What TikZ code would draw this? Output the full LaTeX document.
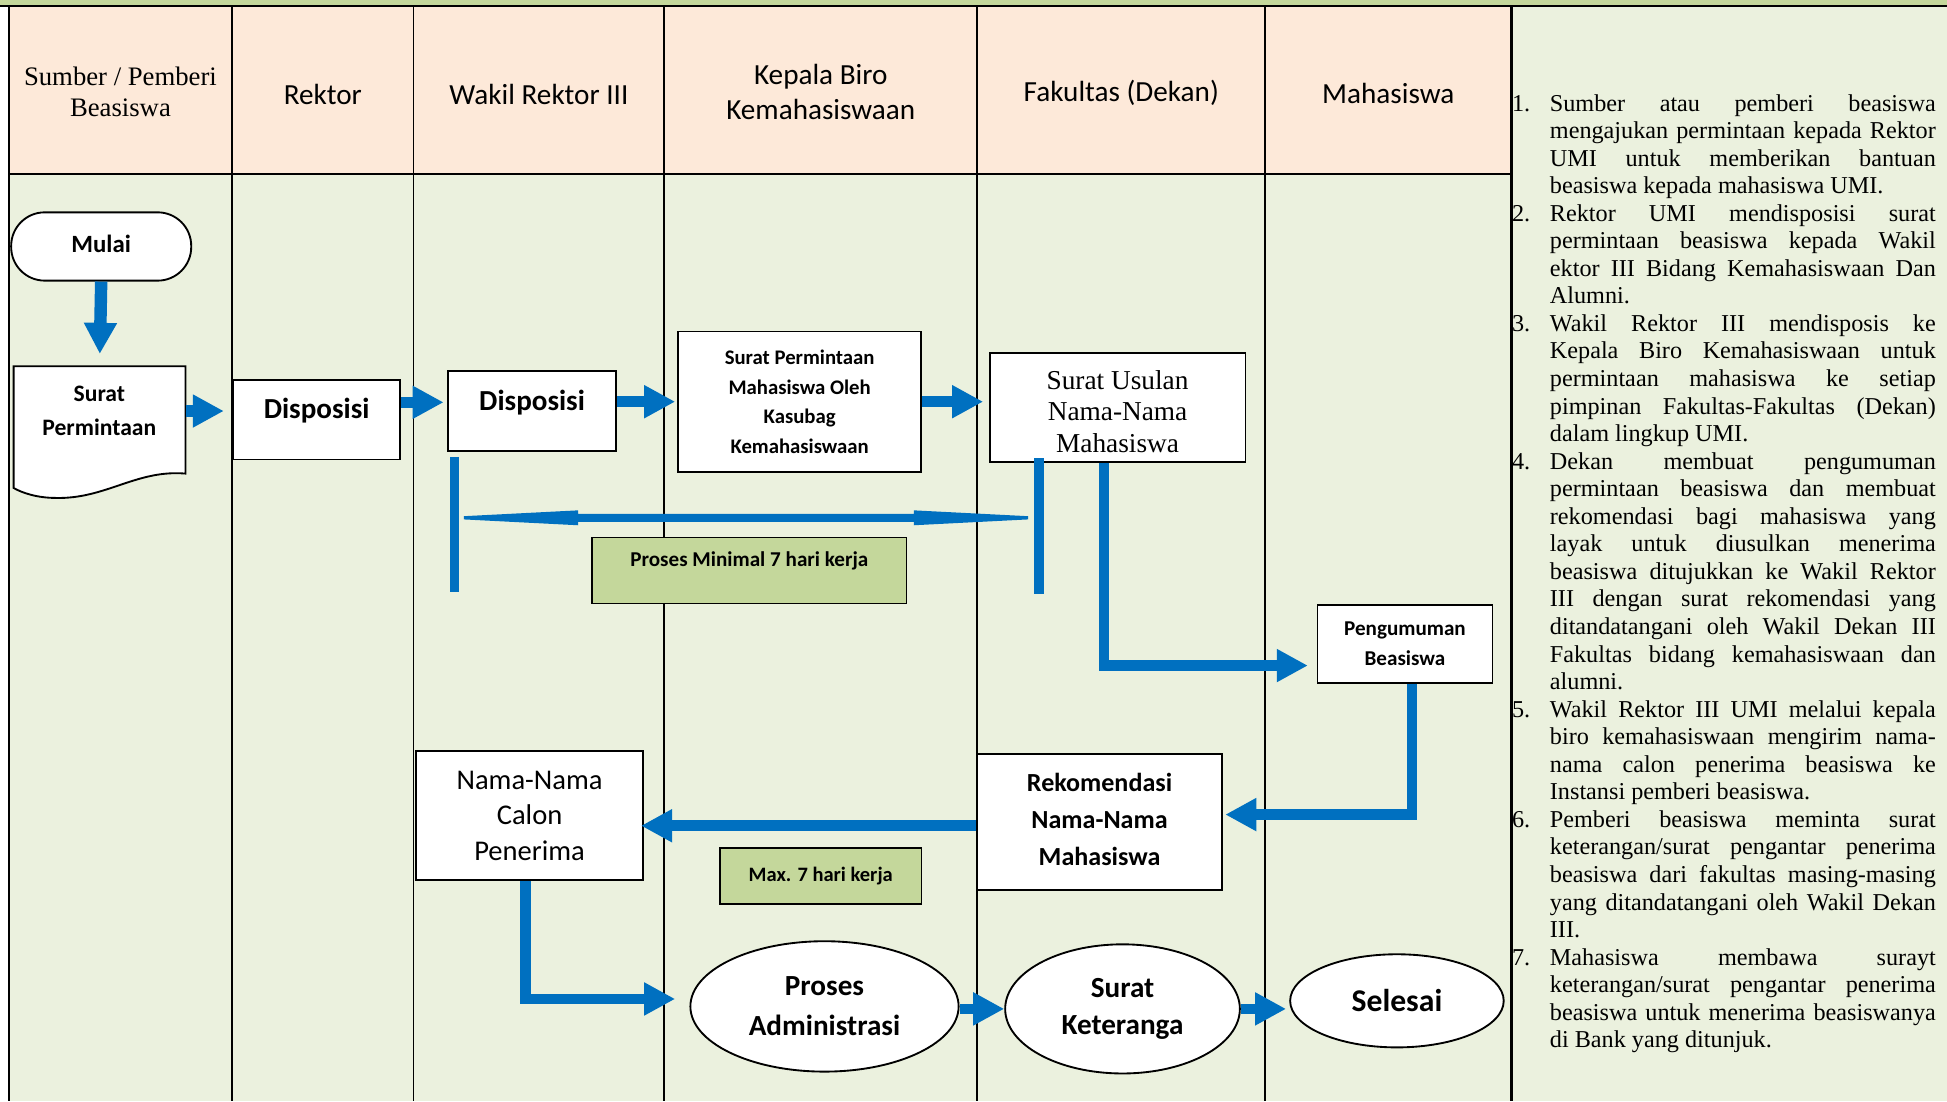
\documentclass[tikz,border=0pt]{standalone}
\usepackage{fontspec}
\setmainfont{Liberation Serif}
\newfontfamily\calfont{Carlito}
\usetikzlibrary{arrows.meta,shapes.geometric,calc}
\definecolor{flowblue}{HTML}{0070C0}
\definecolor{peach}{HTML}{FDE9D9}
\definecolor{bodygreen}{HTML}{EBF1DE}
\definecolor{notegreen}{HTML}{C4D79B}
\newcommand\jline[2]{\makebox[30.5pt][l]{#1}\makebox[310.8pt][s]{#2}\par}
\newcommand\lline[1]{\makebox[30.5pt][l]{}#1\par}
\tikzset{
  box/.style={draw=black, line width=1.5pt, fill=white, inner sep=0pt},
  notebox/.style={draw=black, line width=1.3pt, fill=notegreen, inner sep=0pt},
  flow/.style={draw=flowblue, line width=8.5pt, line join=miter, -{Triangle[length=25pt,width=25pt]}},
  flowthick/.style={flow, line width=10pt},
  barline/.style={draw=flowblue, line width=8pt},
  lane/.style={draw=black, line width=1.5pt},
  hdr/.style={align=center, inner sep=0pt, font=\calfont\fontsize{23.5}{28}\selectfont},
  bt/.style={align=center, inner sep=0pt},
}
\begin{document}
\begin{tikzpicture}[x=1pt,y=-1pt]
\useasboundingbox (0,0) rectangle (1568,887);
% backgrounds
\fill[white] (0,0) rectangle (1568,887);
\fill[bodygreen] (7,5) rectangle (1568,887);
\fill[peach] (7,5) rectangle (1217,140);
\fill[notegreen] (0,0) rectangle (1568,5);
% table lines
\draw[lane] (0,5) -- (1568,5);
\foreach \x in {7,187,333,535,787,1019} \draw[lane] (\x,5) -- (\x,887);
\draw[black, line width=2.2pt] (1217,5) -- (1217,887);
\draw[black, line width=2pt] (7,140) -- (1217,140);
% headers
\node[hdr, font=\fontsize{21.5}{25}\selectfont] (hsumber) at (97,74) {Sumber / Pemberi\\Beasiswa};
\node[hdr] (hrektor) at (260,76) {Rektor};
\node[hdr] (hwr) at (434,76) {Wakil Rektor III};
\node[hdr] (hkbk) at (661,74) {Kepala Biro\\Kemahasiswaan};
\node[hdr] (hfak) at (903,75) {Fakultas (Dekan)};
\node[hdr] (hmhs) at (1118,75) {Mahasiswa};

% flow nodes
\node[box, rounded corners=27pt, minimum width=145pt, minimum height=55pt] (mulai) at (81.5,198.5) {};
\node[bt, font=\calfont\bfseries\fontsize{20}{24}\selectfont] (mulait) at (81.5,196.5) {Mulai};

\node[inner sep=0pt, minimum width=138pt, minimum height=86pt, anchor=north west] (surat) at (11,295) {};
\draw[box] (surat.north west) -- (surat.north east) -- (surat.south east)
  .. controls (110,378) and (85,402) .. (45,401) .. controls (30,401) and (18,397) .. (11,393) -- cycle;
\node[bt, font=\calfont\bfseries\fontsize{19}{27}\selectfont] (surattext) at (80,331) {Surat\\Permintaan};

\node[box, minimum width=134pt, minimum height=64pt] (disp1) at (255,338) {};
\node[bt, font=\calfont\bfseries\fontsize{23.4}{28}\selectfont] (disp1t) at (255,331) {Disposisi};

\node[box, minimum width=135pt, minimum height=64pt] (disp2) at (428.5,331) {};
\node[bt, font=\calfont\bfseries\fontsize{23.4}{28}\selectfont] (disp2t) at (428.5,324) {Disposisi};

\node[box, minimum width=196pt, minimum height=113pt, align=center, font=\calfont\bfseries\fontsize{16.7}{24}\selectfont] (kasubag) at (644,323.5) {Surat Permintaan\\Mahasiswa Oleh\\Kasubag\\Kemahasiswaan};

\node[box, minimum width=206pt, minimum height=88pt] (usulan) at (900,328) {};
\node[bt, font=\fontsize{22}{25.5}\selectfont] (usulant) at (900,331.5) {Surat Usulan\\Nama-Nama\\Mahasiswa};

\node[notebox, minimum width=253pt, minimum height=53pt] (minnote) at (603.5,459.5) {};
\node[bt, font=\calfont\bfseries\fontsize{17}{20}\selectfont] (minnotet) at (603.5,452) {Proses Minimal 7 hari kerja};

\node[box, minimum width=141pt, minimum height=63pt, align=center, font=\calfont\bfseries\fontsize{17}{24}\selectfont] (peng) at (1131.5,518.5) {Pengumuman\\Beasiswa};

\node[box, minimum width=197pt, minimum height=110pt] (rekom) at (885.5,662) {};
\node[bt, font=\calfont\bfseries\fontsize{21}{30}\selectfont] (rekomt) at (885.5,660) {Rekomendasi\\Nama-Nama\\Mahasiswa};

\node[box, minimum width=183pt, minimum height=104pt, align=center, font=\calfont\fontsize{23}{28.5}\selectfont] (nama) at (426.5,657) {Nama-Nama\\Calon\\Penerima};

\node[notebox, minimum width=162pt, minimum height=45pt, font=\calfont\bfseries\fontsize{16.5}{20}\selectfont] (maxnote) at (661,705.5) {Max. 7 hari kerja};

\node[box, ellipse, minimum width=216pt, minimum height=105pt, align=center, font=\calfont\bfseries\fontsize{23.5}{32}\selectfont] (adm) at (664,810.5) {Proses\\Administrasi};
\node[box, ellipse, minimum width=189pt, minimum height=104pt, align=center, font=\calfont\bfseries\fontsize{23.5}{29}\selectfont] (ket) at (904,812.5) {Surat\\Keteranga};
\node[box, ellipse, minimum width=172pt, minimum height=75pt, font=\calfont\bfseries\fontsize{25.5}{30}\selectfont] (sel) at (1125,806) {Selesai};

% connectors
\draw[flowthick, shorten >=10pt] (mulai.south) -- (surat.north);
\draw[flowthick, shorten >=7pt] (surat.east |- disp1t) -- (disp1.west |- disp1t);
\draw[flow, shorten >=3pt] (disp1.east |- disp2t) -- (disp2.west |- disp2t);
\draw[flow, shorten >=1.5pt] (disp2.east |- kasubag) -- (kasubag.west);
\draw[flow, shorten >=4.5pt] (kasubag.east) -- (kasubag.east -| usulan.west);

% time bars
\coordinate (barLtop) at (366,368); \coordinate (barLbot) at (366,477);
\coordinate (barRtop) at (837,369); \coordinate (barRbot) at (837,478);
\draw[barline] (barLtop) -- (barLbot);
\draw[barline] (barRtop) -- (barRbot);
\coordinate (dl) at (373.5,417); \coordinate (dr) at (828,417);
\fill[flowblue] ($(dl)+(0,-1.3)$) -- ($(dl)+(92,-6)$) -- ($(dl)+(92,-3.2)$) -- ($(dr)+(-92,-3.2)$)
  -- ($(dr)+(-92,-6)$) -- ($(dr)+(0,-1.3)$) -- ($(dr)+(0,1.3)$) -- ($(dr)+(-92,6)$)
  -- ($(dr)+(-92,3.2)$) -- ($(dl)+(92,3.2)$) -- ($(dl)+(92,6)$) -- ($(dl)+(0,1.3)$) -- cycle;

\draw[flow, shorten >=7pt] ([xshift=-11pt]usulan.south) |- ([yshift=-17.5pt]peng.west);
\draw[flow, shorten >=2pt] ([xshift=5.5pt]peng.south) |- ([yshift=6pt]rekom.east);
\draw[flow, shorten >=-2.5pt] ([yshift=-3pt]rekom.west) -- ([yshift=-3pt]rekom.west -| nama.east);
\draw[flow, shorten >=11.5pt] ([xshift=-3.5pt]nama.south) |- ([yshift=6pt]adm.west);
\draw[flow] (adm.east |- ket.west) -- (ket.west);
\draw[flow, shorten >=2.5pt] (ket.east) -- (ket.east -| sel.west);

% notes
\node[anchor=base west, inner sep=0pt] (notes) at (1217.5,89.4) {\parbox[t]{345pt}{\fontsize{19.5}{22.19}\selectfont
\jline{1.}{Sumber atau pemberi beasiswa}
\jline{}{mengajukan permintaan kepada Rektor}
\jline{}{UMI untuk memberikan bantuan}
\lline{beasiswa kepada mahasiswa UMI.}
\jline{2.}{Rektor UMI mendisposisi surat}
\jline{}{permintaan beasiswa kepada Wakil}
\jline{}{ektor III Bidang Kemahasiswaan Dan}
\lline{Alumni.}
\jline{3.}{Wakil Rektor III mendisposis ke}
\jline{}{Kepala Biro Kemahasiswaan untuk}
\jline{}{permintaan mahasiswa ke setiap}
\jline{}{pimpinan Fakultas-Fakultas (Dekan)}
\lline{dalam lingkup UMI.}
\jline{4.}{Dekan membuat pengumuman}
\jline{}{permintaan beasiswa dan membuat}
\jline{}{rekomendasi bagi mahasiswa yang}
\jline{}{layak untuk diusulkan menerima}
\jline{}{beasiswa ditujukkan ke Wakil Rektor}
\jline{}{III dengan surat rekomendasi yang}
\jline{}{ditandatangani oleh Wakil Dekan III}
\jline{}{Fakultas bidang kemahasiswaan dan}
\lline{alumni.}
\jline{5.}{Wakil Rektor III UMI melalui kepala}
\jline{}{biro kemahasiswaan mengirim nama-}
\jline{}{nama calon penerima beasiswa ke}
\lline{Instansi pemberi beasiswa.}
\jline{6.}{Pemberi beasiswa meminta surat}
\jline{}{keterangan/surat pengantar penerima}
\jline{}{beasiswa dari fakultas masing-masing}
\jline{}{yang ditandatangani oleh Wakil Dekan}
\lline{III.}
\jline{7.}{Mahasiswa membawa surayt}
\jline{}{keterangan/surat pengantar penerima}
\jline{}{beasiswa untuk menerima beasiswanya}
\lline{di Bank yang ditunjuk.}
}};
\end{tikzpicture}
\end{document}
